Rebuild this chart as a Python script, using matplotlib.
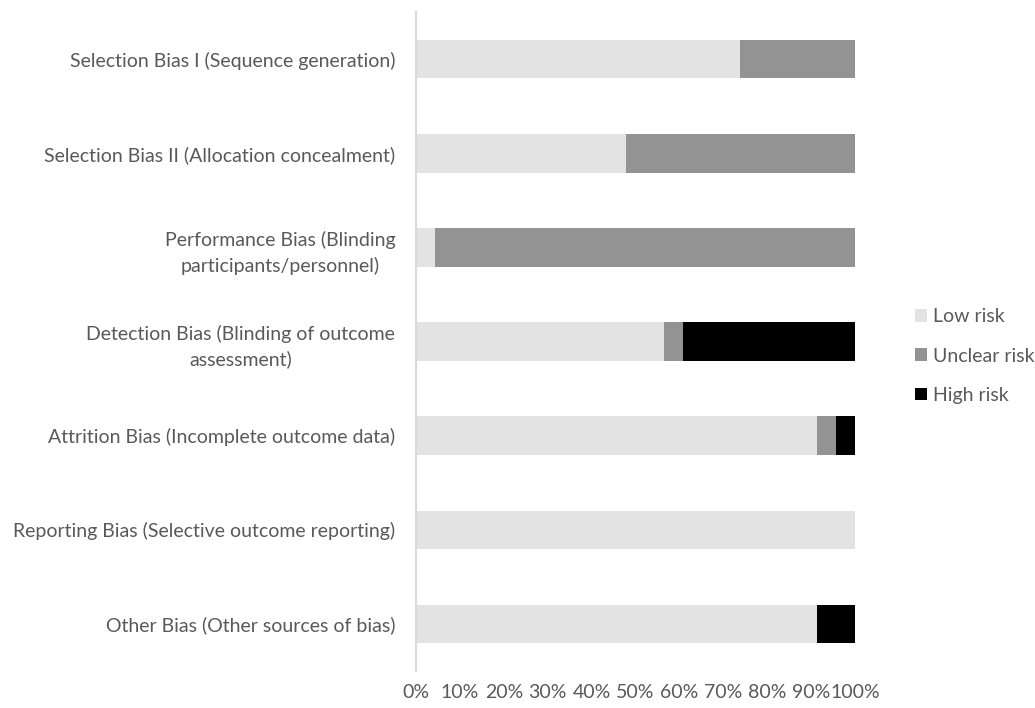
import matplotlib
matplotlib.use("Agg")
import matplotlib.pyplot as plt
import numpy as np

plt.rcParams['font.family'] = ['Lato', 'DejaVu Sans']

categories = [
    "Selection Bias I (Sequence generation)",
    "Selection Bias II (Allocation concealment)",
    "Performance Bias (Blinding\nparticipants/personnel)",
    "Detection Bias (Blinding of outcome\nassessment)",
    "Attrition Bias (Incomplete outcome data)",
    "Reporting Bias (Selective outcome reporting)",
    "Other Bias (Other sources of bias)",
]
low_risk = [73.9, 47.8, 4.3, 56.5, 91.3, 100.0, 91.3]
unclear_risk = [26.1, 52.2, 95.7, 4.3, 4.4, 0.0, 0.0]
high_risk = [0.0, 0.0, 0.0, 39.2, 4.3, 0.0, 8.7]
tick_labels = ["0%", "10%", "20%", "30%", "40%", "50%", "60%", "70%", "80%", "90%", "100%"]

text_color = "#595959"
fs = 14

fig = plt.figure(figsize=(10.35, 7.08), dpi=100)
ax = fig.add_axes([0.402, 0.052, 0.424, 0.931])

y = np.arange(len(categories))
low = np.array(low_risk)
unc = np.array(unclear_risk)
high = np.array(high_risk)
h = 0.41
ax.barh(y, low, height=h, color="#e3e3e3", label="Low risk")
ax.barh(y, unc, left=low, height=h, color="#939393", label="Unclear risk")
ax.barh(y, high, left=low + unc, height=h, color="#000000", label="High risk")

ax.set_ylim(len(categories) - 0.5, -0.5)
ax.set_xlim(0, 100)
ax.set_yticks(y)
ax.set_yticklabels(categories, multialignment="center", linespacing=1.5)
ax.set_xticks(np.arange(0, 101, 10))
ax.set_xticklabels(tick_labels)
ax.tick_params(axis="both", length=0, colors=text_color, labelsize=fs)
ax.tick_params(axis="y", pad=15)
ax.tick_params(axis="x", pad=9)

for side in ["top", "right", "bottom"]:
    ax.spines[side].set_visible(False)
ax.spines["left"].set_color("#d9d9d9")
ax.spines["left"].set_linewidth(1.5)

handles, labels = ax.get_legend_handles_labels()
leg = fig.legend(handles, labels, loc="center left",
                 bbox_to_anchor=(915 / 1035, 1 - 356 / 708),
                 borderaxespad=0, borderpad=0, frameon=False,
                 fontsize=fs, handlelength=0.62, handleheight=0.62,
                 handletextpad=0.3, labelspacing=1.15)
for t in leg.get_texts():
    t.set_color(text_color)

fig.savefig("out.png", dpi=100)
